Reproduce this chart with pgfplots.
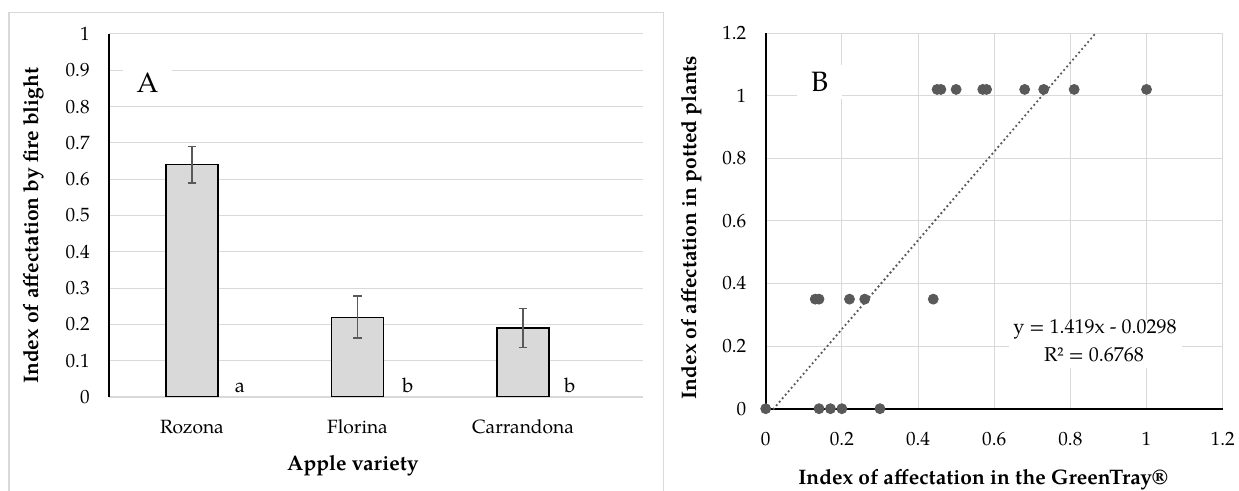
\documentclass[border=0pt]{standalone}
\usepackage{pgfplots}
\pgfplotsset{compat=1.18}
\usepackage{fontspec}
\setmainfont{TeX Gyre Pagella}
\definecolor{gridgray}{HTML}{D9D9D9}
\definecolor{bargray}{HTML}{D9D9D9}
\definecolor{dkgray}{HTML}{595959}
\begin{document}
\begin{tikzpicture}
\useasboundingbox (0,0) rectangle (619.5pt,245.5pt);
\draw[gridgray, line width=0.6pt] (4.5pt,-5pt) rectangle (331.65pt,239.35pt);
\pgfplotsset{every axis/.append style={
  scale only axis, anchor=south west,
  /pgf/number format/assume math mode=true,
  tick label style={font=\fontsize{9.6}{11}\selectfont, inner sep=0pt},
  major tick length=0pt,
  yticklabel style={anchor=east, xshift=-9.5pt},
  xticklabel style={anchor=base, yshift=-18.5pt},
  grid style={gridgray, line width=0.5pt},
}}
% Panel A
\begin{axis}[at={(54.5pt,47pt)}, width=267pt, height=181.5pt,
  xmin=-0.5015, xmax=2.725, ymin=0, ymax=1,
  xtick={0,1,2}, xticklabels={Rozona,Florina,Carrandona},
  ytick={0,0.1,0.2,0.3,0.4,0.5,0.6,0.7,0.8,0.9,1},
  yticklabels={0,0.1,0.2,0.3,0.4,0.5,0.6,0.7,0.8,0.9,1},
  ymajorgrids,
  axis lines*=left,
  x axis line style={gridgray, line width=0.6pt},
  y axis line style={black, line width=0.7pt},
]
\addplot[ybar, bar width=26pt, fill=bargray, draw=black, line width=0.6pt,
  error bars/.cd, y dir=both, y explicit,
  error bar style={dkgray, line width=0.8pt},
  error mark options={rotate=90, dkgray, line width=0.8pt, mark size=2.2pt}]
  coordinates {(0,0.64) +- (0,0.05) (1,0.22) +- (0,0.058) (2,0.19) +- (0,0.054)};
\node[anchor=base, font=\fontsize{10}{12}\selectfont] at (axis cs:0.29,0.011) {a};
\node[anchor=base, font=\fontsize{10}{12}\selectfont] at (axis cs:1.305,0.011) {b};
\node[anchor=base, font=\fontsize{10}{12}\selectfont] at (axis cs:2.284,0.011) {b};
\end{axis}
% Panel B
\begin{axis}[at={(382.85pt,41.15pt)}, width=228.5pt, height=187.8pt,
  xmin=0, xmax=1.2, ymin=0, ymax=1.2,
  xtick={0,0.2,0.4,0.6,0.8,1,1.2}, xticklabels={0,0.2,0.4,0.6,0.8,1,1.2},
  ytick={0,0.2,0.4,0.6,0.8,1,1.2}, yticklabels={0,0.2,0.4,0.6,0.8,1,1.2},
  grid=major,
  axis lines*=left,
  axis line style={black, line width=0.9pt},
  clip=false,
]
\addplot[dkgray, line width=1.3pt, line cap=round, dash pattern=on 0pt off 2.3pt] coordinates {(0.021,0) (0.8667,1.2)};
\addplot[only marks, mark=*, mark size=2.5pt, color=dkgray, mark options={fill=dkgray, draw=dkgray}] table {
x y
0.45 1.02
0.46 1.02
0.50 1.02
0.57 1.02
0.58 1.02
0.68 1.02
0.73 1.02
0.81 1.02
1.00 1.02
0.13 0.35
0.14 0.35
0.22 0.35
0.26 0.35
0.44 0.35
0.00 0.00
0.14 0.00
0.17 0.00
0.20 0.00
0.30 0.00
};
\end{axis}
% panel letters and annotations
\node[fill=white, minimum width=24.5pt, minimum height=20pt, inner sep=0pt, font=\fontsize{14}{16}\selectfont] at (73.75pt,204pt) {A};
\node[fill=white, minimum width=22.5pt, minimum height=17pt, inner sep=0pt, font=\fontsize{14}{16}\selectfont] at (409.8pt,204.65pt) {B};
\fill[white] (504.5pt,61.5pt) rectangle (591pt,85.5pt);
\node[font=\fontsize{10}{12}\selectfont] at (547.5pt,81pt) {y = 1.419x - 0.0298};
\node[font=\fontsize{10}{12}\selectfont] at (547pt,68pt) {R² = 0.6768};
% axis titles
\node[rotate=90, anchor=center, font=\bfseries\fontsize{10.5}{12}\selectfont] at (17pt,132.6pt) {Index of affectation by fire blight};
\node[anchor=base, font=\bfseries\fontsize{10.5}{12}\selectfont] at (176.4pt,10pt) {Apple variety};
\node[rotate=90, anchor=center, font=\bfseries\fontsize{10.5}{12}\selectfont] at (346pt,131.75pt) {Index of affectation in potted plants};
\node[anchor=base, font=\bfseries\fontsize{10.5}{12}\selectfont] at (491.5pt,3pt) {Index of affectation in the GreenTray®};
\end{tikzpicture}
\end{document}
